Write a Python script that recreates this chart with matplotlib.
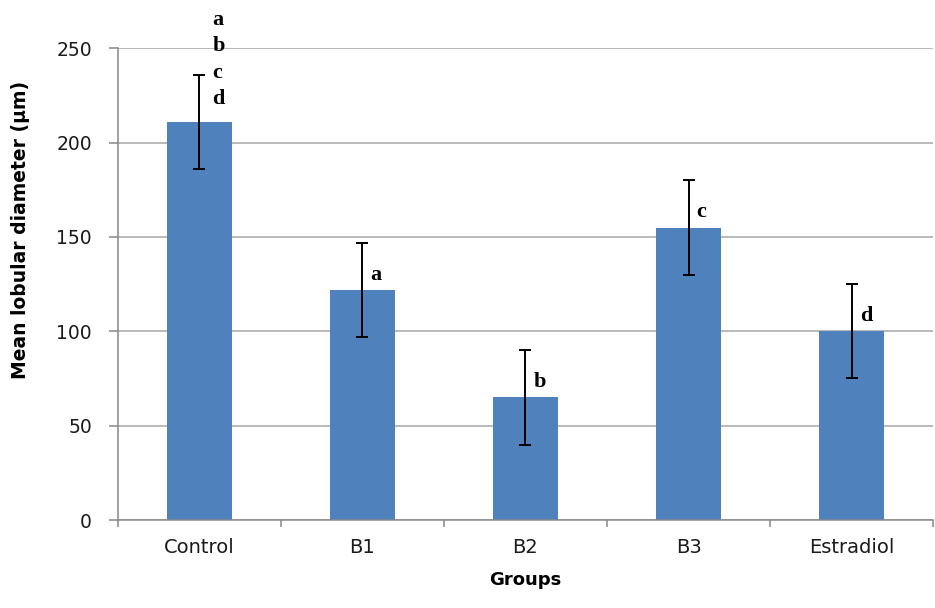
import matplotlib.pyplot as plt
import numpy as np

groups = ['Control', 'B1', 'B2', 'B3', 'Estradiol']
means = [211, 122, 65, 155, 100]
errors = [25, 25, 25, 25, 25]
letters = [['a', 'b', 'c', 'd'], ['a'], ['b'], ['c'], ['d']]

plt.rcParams['font.family'] = ['DejaVu Sans']

fig = plt.figure(figsize=(9.35, 6.08), dpi=100)
ax = fig.add_axes([0.126, 0.1447, 0.872, 0.776])

x = np.arange(len(groups))
ax.bar(x, means, width=0.4, color='#4F81BD', zorder=2)
ax.errorbar(x, means, yerr=errors, fmt='none', ecolor='black', elinewidth=1.4,
            capsize=4, capthick=1.4, zorder=3)

# significance letters
for i, labs in enumerate(letters):
    if len(labs) > 1:
        top = means[i] + errors[i]
        for k, lab in enumerate(labs):
            ax.text(i + 0.08, top + 29 - k * 14, lab, ha='left', va='center',
                    fontsize=16, fontweight='bold', family='Liberation Serif', zorder=4)
    else:
        ax.text(i + 0.05, means[i] + 8, labs[0], ha='left', va='center',
                fontsize=16, fontweight='bold', family='Liberation Serif', zorder=4)

ax.set_xlim(-0.5, 4.5)
ax.set_ylim(0, 250)
ax.set_yticks(range(0, 251, 50))
ax.yaxis.grid(True, color='#a6a6a6', linewidth=1.1, zorder=0)
ax.set_axisbelow(True)

ax.set_xticks(x)
ax.set_xticklabels(groups)
ax.set_xticks(np.arange(-0.5, 4.6, 1), minor=True)
ax.tick_params(axis='x', which='major', length=0, pad=13, labelsize=14, colors='#1a1a1a')
ax.tick_params(axis='x', which='minor', length=5, color='#888888', width=1.1)
ax.tick_params(axis='y', length=6.5, color='#888888', width=1.1, labelsize=13.5, pad=12,
               labelcolor='#1a1a1a')

for s in ['top', 'right']:
    ax.spines[s].set_visible(False)
for s in ['left', 'bottom']:
    ax.spines[s].set_color('#888888')
    ax.spines[s].set_linewidth(1.1)

ax.set_xlabel('Groups', fontsize=13, fontweight='bold', labelpad=10)
ax.set_ylabel('Mean lobular diameter (µm)', fontsize=13.5, fontweight='bold')
ax.yaxis.set_label_coords(-0.108, 0.614)

fig.savefig('out.png', dpi=100)
